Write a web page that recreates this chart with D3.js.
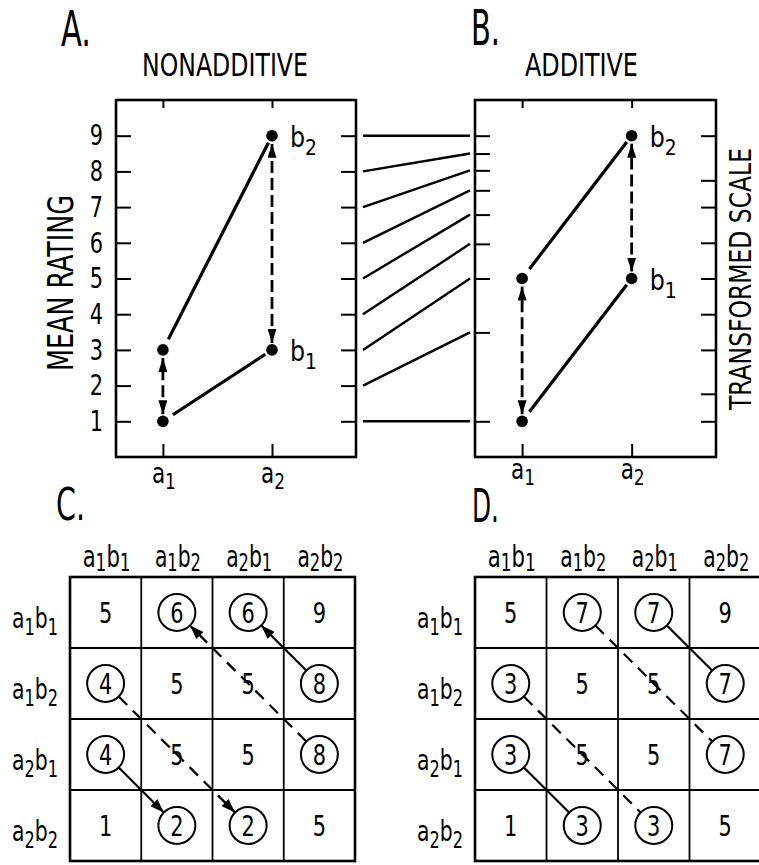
<!DOCTYPE html>
<html>
<head>
<meta charset="utf-8">
<script src="https://cdn.jsdelivr.net/npm/d3@7"></script>
<style>
  html, body { margin: 0; padding: 0; background: #fff; }
  svg { display: block; }
</style>
</head>
<body>
<div id="chart"></div>
<script>
// ---------------- DATA ----------------
const ratingTicks = [1, 2, 3, 4, 5, 6, 7, 8, 9];
const transformedOfRating = [1, 3.49, 5.0, 5.97, 6.79, 7.47, 8.03, 8.5, 9];
const transformedRightTicks = [1, 1.77, 3, 4, 5, 6, 7, 7.75, 9];
const levelsA = [1, 2];
const levelLabels = ["a1", "a2"];
const nonadditiveB1 = [1, 3];
const nonadditiveB2 = [3, 9];
const additiveB1 = [1, 5];
const additiveB2 = [5, 9];
const cellNames = ["a1b1", "a1b2", "a2b1", "a2b2"];
const tableC = [[5, 6, 6, 9], [4, 5, 5, 8], [4, 5, 5, 8], [1, 2, 2, 5]];
const tableD = [[5, 7, 7, 9], [3, 5, 5, 7], [3, 5, 5, 7], [1, 3, 3, 5]];
const circled = [[0, 1, 1, 0], [1, 0, 0, 1], [1, 0, 0, 1], [0, 1, 1, 0]];
const linksC = [
  { from: [1, 3], to: [0, 2], dashed: false },
  { from: [2, 3], to: [0, 1], dashed: true },
  { from: [1, 0], to: [3, 2], dashed: true },
  { from: [2, 0], to: [3, 1], dashed: false }
];
const linksD = [
  { from: [0, 2], to: [1, 3], dashed: false },
  { from: [0, 1], to: [2, 3], dashed: true },
  { from: [1, 0], to: [3, 2], dashed: true },
  { from: [2, 0], to: [3, 1], dashed: false }
];

// ---------------- SETUP ----------------
const W = 759, H = 865;
const FONT = "'DejaVu Sans Condensed','Liberation Sans Narrow','Roboto Condensed',Roboto,sans-serif";
const SQ = 0.8; // horizontal squeeze for digits (condensed lettering)
const svg = d3.select("#chart").append("svg")
  .attr("width", W).attr("height", H)
  .attr("font-family", FONT);

const defs = svg.append("defs");
function addMarker(id, len, wid) {
  defs.append("marker")
    .attr("id", id)
    .attr("markerUnits", "userSpaceOnUse")
    .attr("viewBox", `0 0 ${len} ${wid}`)
    .attr("markerWidth", len).attr("markerHeight", wid)
    .attr("refX", len).attr("refY", wid / 2)
    .attr("orient", "auto-start-reverse")
    .append("path")
    .attr("d", `M0,0 L${len},${wid / 2} L0,${wid} Z`)
    .attr("fill", "#000").attr("stroke", "none");
}
addMarker("headA", 14, 9);
addMarker("headC", 14, 10);

// text squeezed horizontally to a target width via transform
function fitText(t, x, y, anchor, targetW) {
  const w = t.node().getComputedTextLength();
  const s = targetW ? Math.min(1, targetW / w) : 1;
  const off = anchor === "middle" ? -w / 2 : anchor === "end" ? -w : 0;
  t.attr("x", off).attr("y", 0).attr("transform", `translate(${x},${y}) scale(${s},1)`);
  return t;
}
function subLabel(parent, s, x, y, anchor, mainSize, subSize, shift, targetW) {
  const t = parent.append("text").attr("fill", "#000");
  const parts = s.match(/[a-z]\d/g);
  parts.forEach((p, i) => {
    t.append("tspan").text(p[0]).attr("font-size", mainSize).attr("dy", i === 0 ? 0 : -shift);
    t.append("tspan").text(p[1]).attr("font-size", subSize).attr("dy", shift);
  });
  return fitText(t, x, y, anchor, targetW);
}

// ---------------- PANELS A & B ----------------
const yScale = d3.scaleLinear().domain([0, 10]).range([457, 100]);
const xA = d3.scaleLinear().domain([0.57, 2.77]).range([116, 356]);
const xB = d3.scaleLinear().domain([0.57, 2.77]).range([475, 716]);

function panel(xs, b1, b2, leftTickVals, rightTickVals, showLeftLabels, labelYOffset) {
  const g = svg.append("g");
  const [x0, x1] = xs.range();
  const [yb, yt] = yScale.range();
  const la = d3.axisLeft(yScale).tickValues(leftTickVals).tickSizeInner(-15).tickSizeOuter(0).tickPadding(13)
    .tickFormat(showLeftLabels ? d3.format("d") : "");
  const lg = g.append("g").attr("transform", `translate(${x0},0)`).call(la);
  const ra = d3.axisRight(yScale).tickValues(rightTickVals).tickSizeInner(-15).tickSizeOuter(0).tickFormat("");
  const rg = g.append("g").attr("transform", `translate(${x1},0)`).call(ra);
  const ta = d3.axisTop(xs).tickValues(levelsA).tickSizeInner(-8).tickSizeOuter(0).tickFormat("");
  const tg = g.append("g").attr("transform", `translate(0,${yt})`).call(ta);
  const ba = d3.axisBottom(xs).tickValues(levelsA).tickSizeInner(-13).tickSizeOuter(0).tickFormat("");
  const bg = g.append("g").attr("transform", `translate(0,${yb})`).call(ba);
  [lg, rg, tg, bg].forEach(a => {
    a.select(".domain").remove();
    a.selectAll("line").attr("stroke", "#000").attr("stroke-width", 2);
    a.selectAll("text").attr("font-family", FONT).attr("font-size", 29).attr("fill", "#000")
      .attr("x", -13 / SQ).attr("transform", `scale(${SQ},1)`);
  });
  g.append("rect").attr("x", x0).attr("y", yt).attr("width", x1 - x0).attr("height", yb - yt)
    .attr("fill", "none").attr("stroke", "#000").attr("stroke-width", 2.6);
  levelsA.forEach((v, i) => {
    subLabel(g, levelLabels[i], xs(v) + 1, yb + labelYOffset, "middle", 28, 22, 6, 24);
  });
  function trimmed(p0, p1, t0, t1) {
    const dx = p1[0] - p0[0], dy = p1[1] - p0[1], L = Math.hypot(dx, dy);
    return [[p0[0] + dx / L * t0, p0[1] + dy / L * t0], [p1[0] - dx / L * t1, p1[1] - dy / L * t1]];
  }
  [b1, b2].forEach(series => {
    const p0 = [xs(levelsA[0]), yScale(series[0])];
    const p1 = [xs(levelsA[1]), yScale(series[1])];
    const [q0, q1] = trimmed(p0, p1, 12, 8);
    g.append("line").attr("x1", q0[0]).attr("y1", q0[1]).attr("x2", q1[0]).attr("y2", q1[1])
      .attr("stroke", "#000").attr("stroke-width", 3.2);
  });
  levelsA.forEach((v, i) => {
    const ya = yScale(b1[i]), yb2 = yScale(b2[i]);
    g.append("line").attr("x1", xs(v)).attr("x2", xs(v))
      .attr("y1", ya - 7).attr("y2", yb2 + 8)
      .attr("stroke", "#000").attr("stroke-width", 2.8)
      .attr("stroke-dasharray", "12,5")
      .attr("marker-start", "url(#headA)").attr("marker-end", "url(#headA)");
  });
  levelsA.forEach((v, i) => {
    [b1[i], b2[i]].forEach(val => {
      g.append("circle").attr("cx", xs(v)).attr("cy", yScale(val)).attr("r", 5.8).attr("fill", "#000");
    });
  });
  [["b1", b1[1]], ["b2", b2[1]]].forEach(([lab, val]) => {
    subLabel(g, lab, xs(levelsA[1]) + 18, yScale(val) + 11, "start", 28, 22, 8, 27);
  });
  return g;
}

panel(xA, nonadditiveB1, nonadditiveB2, ratingTicks, ratingTicks, true, 26);
panel(xB, additiveB1, additiveB2, transformedOfRating, transformedRightTicks, false, 22);

// connecting lines between the two scales
ratingTicks.forEach((v, i) => {
  svg.append("line")
    .attr("x1", 363).attr("y1", yScale(v))
    .attr("x2", 470).attr("y2", yScale(transformedOfRating[i]))
    .attr("stroke", "#000").attr("stroke-width", 2.4);
});

// titles
function title(x, y, size, len, txt) {
  const t = svg.append("text").attr("font-size", size).attr("fill", "#000").text(txt);
  fitText(t, x, y, "start", len);
}
title(61, 46, 50, 30, "A.");
title(471, 45, 50, 29, "B.");
title(142, 76, 32, 166, "NONADDITIVE");
title(525, 76, 32, 113, "ADDITIVE");
title(56, 520, 45, 29, "C.");
title(472, 522, 46, 27, "D.");
svg.append("text").attr("transform", "translate(73,283) rotate(-90)")
  .attr("text-anchor", "middle").attr("font-size", 35)
  .attr("textLength", 176).attr("lengthAdjust", "spacingAndGlyphs").text("MEAN RATING");
svg.append("text").attr("transform", "translate(751,279) rotate(-90)")
  .attr("text-anchor", "middle").attr("font-size", 30)
  .attr("textLength", 262).attr("lengthAdjust", "spacingAndGlyphs").text("TRANSFORMED   SCALE");

// ---------------- TABLES C & D ----------------
function table(x0, x1, values, links, arrows) {
  const xs = d3.scaleBand().domain(cellNames).range([x0, x1]);
  const ys = d3.scaleBand().domain(cellNames).range([577, 861]);
  const g = svg.append("g");
  const bw = xs.bandwidth(), bh = ys.bandwidth();
  const cx = j => xs(cellNames[j]) + bw / 2;
  const cy = i => ys(cellNames[i]) + bh / 2;
  cellNames.slice(1).forEach(n => {
    g.append("line").attr("x1", xs(n)).attr("x2", xs(n)).attr("y1", 577).attr("y2", 861)
      .attr("stroke", "#000").attr("stroke-width", 1.8);
    g.append("line").attr("x1", x0).attr("x2", x1).attr("y1", ys(n)).attr("y2", ys(n))
      .attr("stroke", "#000").attr("stroke-width", 1.8);
  });
  g.append("rect").attr("x", x0).attr("y", 577).attr("width", x1 - x0).attr("height", 861 - 577)
    .attr("fill", "none").attr("stroke", "#000").attr("stroke-width", 2.6);
  cellNames.forEach((n, j) => {
    subLabel(g, n, cx(j) + 1, 567, "middle", 30, 24, 4, j === 0 ? 48 : 46);
  });
  cellNames.forEach((n, i) => {
    subLabel(g, n, x0 - 12, cy(i) + 15, "end", 29, 23, 7, 46);
  });
  const R = 18.5;
  links.forEach(l => {
    const p0 = [cx(l.from[1]), cy(l.from[0])], p1 = [cx(l.to[1]), cy(l.to[0])];
    const dx = p1[0] - p0[0], dy = p1[1] - p0[1], L = Math.hypot(dx, dy);
    const line = g.append("line")
      .attr("x1", p0[0] + dx / L * R).attr("y1", p0[1] + dy / L * R)
      .attr("x2", p1[0] - dx / L * R).attr("y2", p1[1] - dy / L * R)
      .attr("stroke", "#000").attr("stroke-width", 2.2);
    if (l.dashed) line.attr("stroke-dasharray", "12,8");
    if (arrows) line.attr("marker-end", "url(#headC)");
  });
  values.forEach((row, i) => row.forEach((v, j) => {
    if (circled[i][j]) {
      g.append("circle").attr("cx", cx(j)).attr("cy", cy(i)).attr("r", R)
        .attr("fill", "#fff").attr("stroke", "#000").attr("stroke-width", 2);
    }
    g.append("text").attr("transform", `translate(${cx(j)},${cy(i)}) scale(${SQ},1)`)
      .attr("dy", "0.36em")
      .attr("text-anchor", "middle").attr("font-size", 29).attr("fill", "#000").text(v);
  }));
}
table(70, 355, tableC, linksC, true);
table(475, 761, tableD, linksD, false);
</script>
</body>
</html>
